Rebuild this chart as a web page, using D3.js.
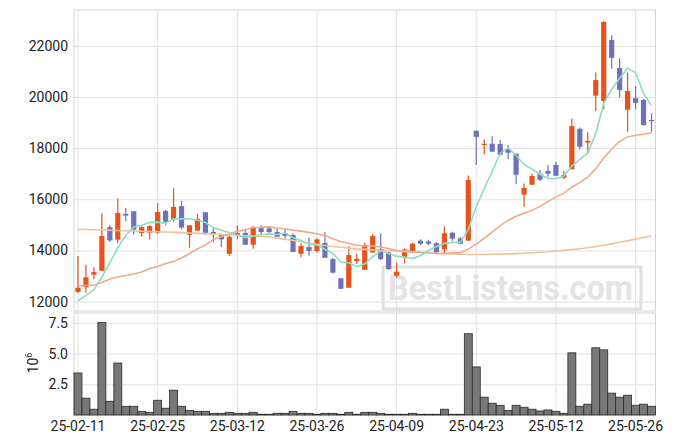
<!DOCTYPE html>
<html><head><meta charset="utf-8">
<script src="https://cdn.jsdelivr.net/npm/d3@7/dist/d3.min.js"></script>
<style>
body{margin:0;background:#fff}
svg{display:block}
text{font-family:Roboto,"Liberation Sans","DejaVu Sans",sans-serif}
</style>
</head><body>
<svg id="c" width="675" height="444"></svg>
<script>
// ---- data ----
const dates = [
"25-02-11","25-02-12","25-02-13","25-02-14","25-02-17","25-02-18","25-02-19","25-02-20","25-02-21","25-02-24",
"25-02-25","25-02-26","25-02-27","25-02-28","25-03-04","25-03-05","25-03-06","25-03-07","25-03-10","25-03-11",
"25-03-12","25-03-13","25-03-14","25-03-17","25-03-18","25-03-19","25-03-20","25-03-21","25-03-24","25-03-25",
"25-03-26","25-03-27","25-03-28","25-03-31","25-04-01","25-04-02","25-04-03","25-04-04","25-04-07","25-04-08",
"25-04-09","25-04-10","25-04-11","25-04-14","25-04-15","25-04-16","25-04-17","25-04-18","25-04-21","25-04-22",
"25-04-23","25-04-24","25-04-25","25-04-28","25-04-29","25-04-30","25-05-02","25-05-07","25-05-08","25-05-09",
"25-05-12","25-05-13","25-05-14","25-05-15","25-05-16","25-05-19","25-05-20","25-05-21","25-05-22","25-05-23",
"25-05-26","25-05-27","25-05-28"];
const open = [
12380,12560,13050,13200,14910,14420,15430,15530,14680,14690,
14690,15540,15210,15730,14610,14770,15490,14720,14630,13870,
14590,14680,14220,14870,14860,14720,14680,14600,13870,14130,
13980,14290,13660,12910,12540,13580,13240,13920,14050,13920,
13010,13730,13920,14380,14350,14280,14040,14690,14470,14380,
18680,18130,18170,18160,17960,17780,16180,16570,16990,17110,
17340,16840,17170,18750,18210,20050,19850,22230,21130,19500,
19950,19880,19100];
const high = [
13780,13440,13340,15450,14980,16040,15660,15540,14940,14980,
15840,15580,16430,15940,14990,15430,15500,14890,14650,14590,
14980,14820,14960,14980,14930,14860,14860,14670,14280,14500,
14470,14710,13700,12920,14160,13870,14300,14640,14670,13950,
13520,14080,14300,14440,14420,14340,14930,14730,14510,16930,
18690,18340,18460,18320,18120,17790,16620,17010,17140,17340,
17470,17100,19160,18810,18620,20960,22970,22410,21510,20960,
20430,19920,19360];
const low = [
12330,12340,12870,13200,14330,14280,15140,14630,14530,14430,
14640,14980,15120,14820,14100,14770,14600,14330,14130,13790,
14440,14220,14060,14640,14650,14530,14470,13930,13730,13790,
13910,13710,13100,12490,12540,13470,13240,13920,13620,13230,
12930,13490,13920,14200,14200,13880,13880,14380,14260,14380,
17340,17760,17860,17740,17560,16590,15710,16570,16720,16880,
16920,16780,17170,17950,17800,19450,19510,21100,19980,18640,
19510,18870,18640];
const close = [
12540,12950,13150,14560,14390,15460,15360,14810,14910,14950,
15500,15120,15700,14890,14980,15230,14690,14630,14430,14530,
14680,14220,14900,14720,14720,14530,14570,13940,14170,13980,
14430,13710,13130,12500,13820,13670,14210,14560,13660,13270,
13170,14040,14260,14260,14260,13920,14670,14460,14260,16750,
18440,18170,17860,17740,17820,16960,16440,16910,16760,17000,
16920,16950,18860,18050,18280,20660,22930,21530,20270,20230,
19770,18900,19070];
const volume = [ // millions of shares
3.42,1.37,0.47,7.52,1.12,4.23,0.71,0.71,0.30,0.22,
1.20,0.55,2.02,0.71,0.38,0.30,0.30,0.14,0.14,0.22,
0.14,0.14,0.22,0.06,0.06,0.14,0.14,0.30,0.14,0.14,
0.06,0.14,0.14,0.06,0.22,0.06,0.22,0.22,0.14,0.06,
0.06,0.06,0.14,0.06,0.06,0.06,0.47,0.06,0.06,6.61,
3.91,1.45,0.96,0.79,0.38,0.79,0.63,0.47,0.33,0.41,
0.30,0.14,5.06,0.71,0.88,5.47,5.30,1.78,1.45,1.61,
0.79,0.88,0.71];
const ma5 = [
12030,12240,12460,12950,13519,14103,14584,14915,14986,15097,
15105,15058,15236,15231,15236,15181,15095,14882,14791,14702,
14592,14498,14553,14610,14647,14618,14688,14495,14386,14237,
14217,14045,13883,13549,13518,13366,13465,13752,13985,13875,
13774,13740,13680,13799,13997,14149,14274,14313,14313,14811,
15715,16416,17096,17792,18006,17709,17362,17172,16977,16812,
16805,16906,17297,17555,17811,18559,19756,20290,20733,21125,
20947,20142,19649];
const ma20 = [
12606,12626,12645,12743,12880,12958,13017,13075,13153,13290,
13369,13486,13564,13701,13877,14053,14209,14420,14540,14638,
14745,14809,14897,14904,14921,14874,14835,14792,14754,14706,
14652,14582,14453,14334,14276,14198,14174,14171,14132,14069,
13994,13985,13953,13930,13907,13876,13881,13907,13912,14050,
14251,14474,14710,14972,15172,15337,15448,15565,15720,15907,
16094,16240,16470,16659,16860,17197,17610,17964,18264,18438,
18505,18541,18602];
const maLong = [
14820,14815,14810,14800,14790,14780,14770,14760,14750,14740,
14730,14718,14706,14694,14680,14665,14650,14635,14620,14605,
14590,14575,14560,14542,14522,14475,14440,14390,14335,14280,
14235,14190,14155,14120,14090,14060,14040,14020,14000,13985,
13970,13950,13935,13920,13905,13890,13875,13862,13850,13842,
13840,13842,13848,13855,13865,13875,13890,13905,13925,13945,
13975,14000,14030,14065,14105,14150,14200,14255,14315,14375,
14440,14505,14570];
const priceTicks = [12000,14000,16000,18000,20000,22000];
const volumeTicks = [2.5,5.0,7.5];
const dateTicks = ["25-02-11","25-02-25","25-03-12","25-03-26","25-04-09","25-04-23","25-05-12","25-05-26"];

// ---- layout ----
const L = 74, R = 655.5, pTop = 10, pBot = 311, vTop = 313, vBot = 415;
const UP = "#e6531d", DOWN = "#6e72b8";
const svg = d3.select("#c");

const x = d3.scaleBand().domain(dates).range([L, R]).padding(0);
const bw = x.bandwidth();
const cx = d => x(d) + bw / 2;
const y = d3.scaleLinear().domain([11630, 23400]).range([pBot, pTop]);
const yv = d3.scaleLinear().domain([0, 8.3]).range([vBot, vTop]);

const grid = "#e2e2e2";
function styleAxis(g, showText) {
  g.select(".domain").remove();
  g.selectAll(".tick line").attr("stroke", grid).attr("stroke-width", 1);
  g.selectAll(".tick text").attr("font-size", 14).attr("fill", "#222")
    .attr("font-family", "Roboto, 'Liberation Sans', sans-serif");
  if (!showText) g.selectAll(".tick text").remove();
}

// price panel grid + axis
svg.append("g").attr("transform", `translate(${L},0)`)
  .call(d3.axisLeft(y).tickValues(priceTicks).tickFormat(d3.format("d")).tickSize(-(R - L)).tickPadding(6))
  .call(g => styleAxis(g, true));
svg.append("g").attr("transform", `translate(0,${pBot})`)
  .call(d3.axisBottom(x).tickValues(dateTicks).tickSize(-(pBot - pTop)))
  .call(g => styleAxis(g, false));

// volume panel grid + axis
svg.append("g").attr("transform", `translate(${L},0)`)
  .call(d3.axisLeft(yv).tickValues(volumeTicks).tickFormat(d3.format(".1f")).tickSize(-(R - L)).tickPadding(6))
  .call(g => styleAxis(g, true));
svg.append("g").attr("transform", `translate(0,${vBot})`)
  .call(d3.axisBottom(x).tickValues(dateTicks).tickSize(-(vBot - vTop)).tickPadding(6))
  .call(g => styleAxis(g, true));

// frames
[[pTop, pBot], [vTop, vBot]].forEach(([t, b]) => {
  svg.append("rect").attr("x", L).attr("y", t).attr("width", R - L).attr("height", b - t)
    .attr("fill", "none").attr("stroke", "#d4d4d4").attr("stroke-width", 1);
});

// 10^6 label
const lab = svg.append("text").attr("transform", "translate(38,363) rotate(-90)")
  .attr("text-anchor", "middle").attr("font-size", 14).attr("fill", "#222");
lab.append("tspan").text("10");
lab.append("tspan").attr("dy", -6).attr("font-size", 9).text("6");

// watermark
const wm = svg.append("g").attr("opacity", 0.85);
wm.append("rect").attr("x", 383).attr("y", 267).attr("width", 258).attr("height", 42)
  .attr("fill", "none").attr("stroke", "#dcdcdc").attr("stroke-width", 3).attr("rx", 1);
wm.append("text").attr("x", 388).attr("y", 300).attr("font-size", 35).attr("font-weight", "bold")
  .attr("fill", "#e0e0e0").attr("textLength", 245).attr("lengthAdjust", "spacingAndGlyphs")
  .text("BestListens.com");

// clip for price panel
svg.append("clipPath").attr("id", "pc").append("rect")
  .attr("x", L).attr("y", pTop).attr("width", R - L).attr("height", pBot - pTop);

const idx = d3.range(dates.length);

// candles
const cg = svg.append("g").attr("clip-path", "url(#pc)");
cg.selectAll("line.w").data(idx).join("line")
  .attr("x1", i => cx(dates[i])).attr("x2", i => cx(dates[i]))
  .attr("y1", i => y(high[i])).attr("y2", i => y(low[i]))
  .attr("stroke", i => close[i] >= open[i] ? UP : DOWN).attr("stroke-width", 1.2);
cg.selectAll("rect.b").data(idx).join("rect")
  .attr("x", i => cx(dates[i]) - 2.6).attr("width", 5.2)
  .attr("y", i => y(Math.max(open[i], close[i])))
  .attr("height", i => Math.max(1.2, Math.abs(y(open[i]) - y(close[i]))))
  .attr("fill", i => close[i] >= open[i] ? UP : DOWN);

// moving averages
const lineOf = arr => d3.line().x((v, i) => cx(dates[i])).y(v => y(v))(arr);
const lg = svg.append("g").attr("clip-path", "url(#pc)").attr("fill", "none");
lg.append("path").attr("d", lineOf(maLong)).attr("stroke", "#efc39c").attr("stroke-width", 1.6);
lg.append("path").attr("d", lineOf(ma20)).attr("stroke", "#eeab8e").attr("stroke-width", 1.6);
lg.append("path").attr("d", lineOf(ma5)).attr("stroke", "#8fdcc3").attr("stroke-width", 1.6);

// volume bars
svg.append("g").selectAll("rect").data(idx).join("rect")
  .attr("x", i => x(dates[i])).attr("width", bw)
  .attr("y", i => yv(volume[i])).attr("height", i => vBot - yv(volume[i]))
  .attr("fill", "#777").attr("stroke", "#2a2a2a").attr("stroke-width", 0.8);
</script>
</body></html>
